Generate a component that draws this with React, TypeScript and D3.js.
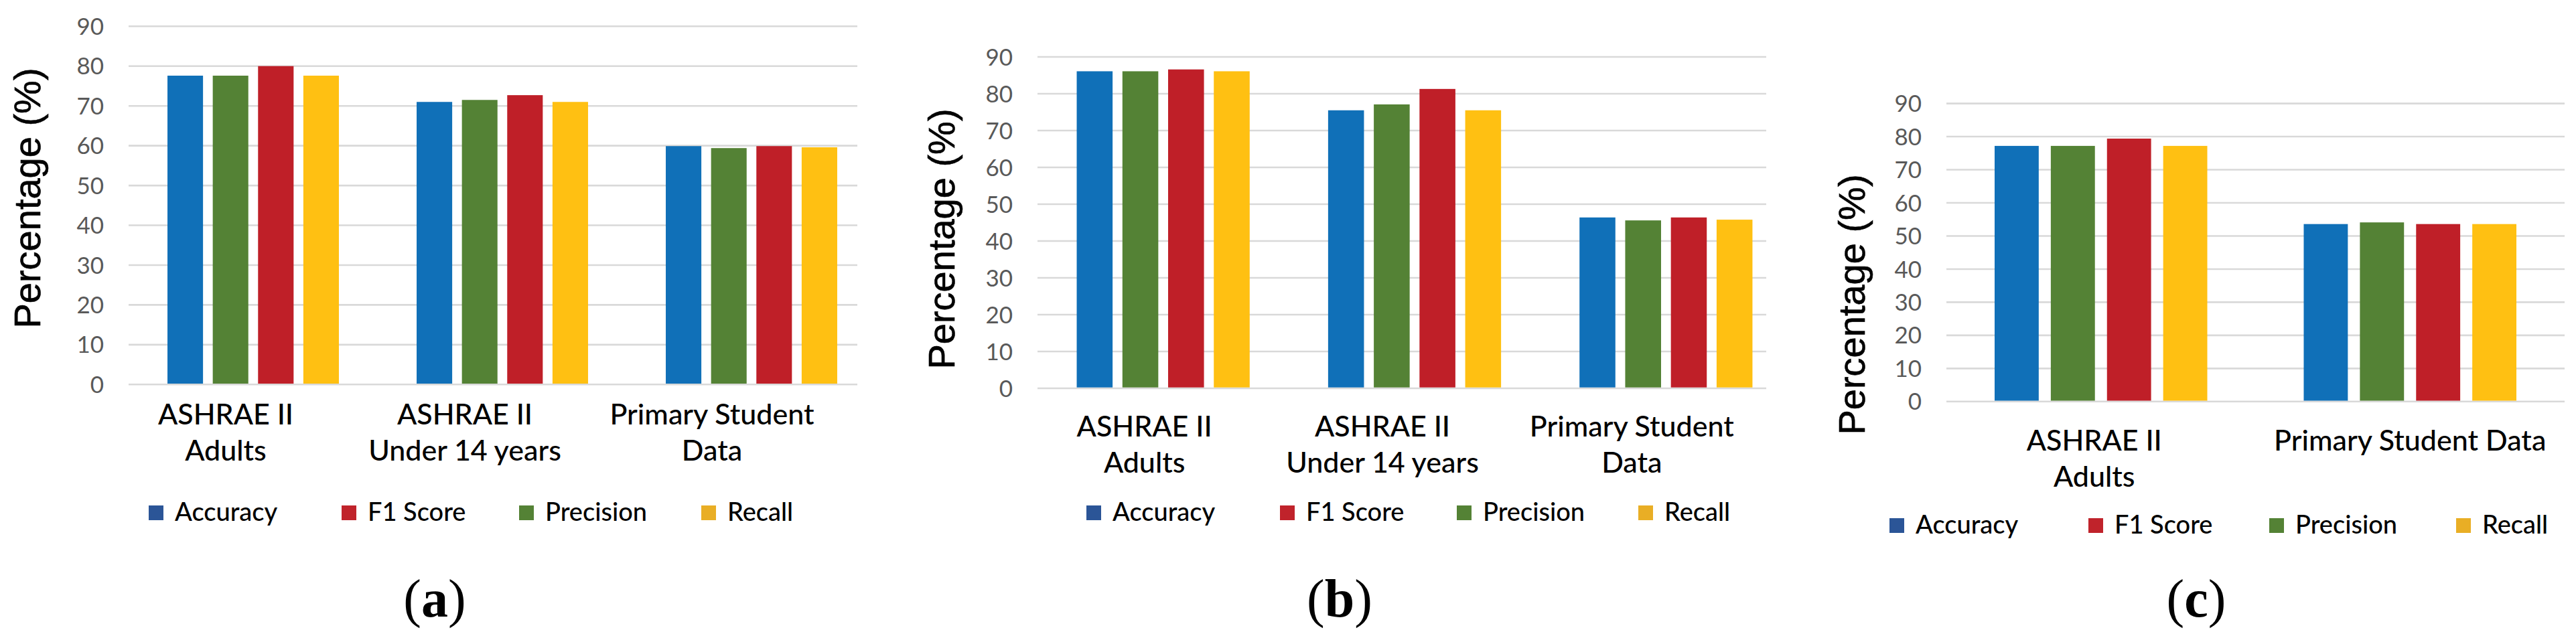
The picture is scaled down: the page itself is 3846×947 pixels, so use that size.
import { useEffect, useRef } from "react";
import * as d3 from "d3";

// series in the order the bars are drawn, and in the order the legend lists them
const barSeries = ["Accuracy", "Precision", "F1 Score", "Recall"];
const legendSeries = ["Accuracy", "F1 Score", "Precision", "Recall"];
const yTicks = [0, 10, 20, 30, 40, 50, 60, 70, 80, 90];

const categoriesA = ["ASHRAE II\nAdults", "ASHRAE II\nUnder 14 years", "Primary Student\nData"];
const accuracyA = [77.6, 71.0, 59.9];
const precisionA = [77.6, 71.5, 59.4];
const f1A = [80.0, 72.7, 59.9];
const recallA = [77.6, 71.0, 59.6];

const categoriesB = ["ASHRAE II\nAdults", "ASHRAE II\nUnder 14 years", "Primary Student\nData"];
const accuracyB = [86.1, 75.5, 46.4];
const precisionB = [86.1, 77.1, 45.6];
const f1B = [86.6, 81.3, 46.4];
const recallB = [86.1, 75.5, 45.8];

const categoriesC = ["ASHRAE II\nAdults", "Primary Student Data"];
const accuracyC = [77.2, 53.6];
const precisionC = [77.2, 54.1];
const f1C = [79.4, 53.6];
const recallC = [77.2, 53.6];

const barColor: Record<string, string> = {
  Accuracy: "#1070b8",
  Precision: "#548235",
  "F1 Score": "#bf1f28",
  Recall: "#ffc012",
};
const legendColor: Record<string, string> = {
  Accuracy: "#2b5597",
  Precision: "#548235",
  "F1 Score": "#c0232b",
  Recall: "#e9ae25",
};

const LABEL_FONT = "Lato, 'Open Sans', sans-serif";

interface Panel {
  caption: string;
  categories: string[];
  values: Record<string, number[]>;
  left: number;
  right: number;
  gridEnd: number;
  yTop: number;
  yBase: number;
  yTitle: [number, number];
  xLabelY: number;
  labelShift: number[];
  legendY: number;
  legendX: number[];
  captionX: number;
}

const panels: Panel[] = [
  {
    caption: "a",
    categories: categoriesA,
    values: { Accuracy: accuracyA, Precision: precisionA, "F1 Score": f1A, Recall: recallA },
    left: 192, right: 1308, gridEnd: 1280, yTop: 39.3, yBase: 574.3,
    yTitle: [40, 296], xLabelY: 634, labelShift: [-41, -56, -59], legendY: 766,
    legendX: [222, 510, 775, 1047], captionX: 649,
  },
  {
    caption: "b",
    categories: categoriesB,
    values: { Accuracy: accuracyB, Precision: precisionB, "F1 Score": f1B, Recall: recallB },
    left: 1549, right: 2675, gridEnd: 2637, yTop: 85, yBase: 580,
    yTitle: [1405, 357], xLabelY: 652, labelShift: [-28, -48, -51], legendY: 766,
    legendX: [1622, 1911, 2175, 2446], captionX: 2000,
  },
  {
    caption: "c",
    categories: categoriesC,
    values: { Accuracy: accuracyC, Precision: precisionC, "F1 Score": f1C, Recall: recallC },
    left: 2906, right: 3829, gridEnd: 3829, yTop: 154.6, yBase: 599.8,
    yTitle: [2764, 455], xLabelY: 673, labelShift: [-10, 0], legendY: 785,
    legendX: [2821, 3118, 3388, 3667], captionX: 3279,
  },
];

function drawPanel(svg: d3.Selection<SVGSVGElement, unknown, null, undefined>, p: Panel) {
  const g = svg.append("g");
  const y = d3.scaleLinear().domain([0, 90]).range([p.yBase, p.yTop]);
  const x0 = d3
    .scaleBand<string>()
    .domain(p.categories)
    .range([p.left, p.right])
    .paddingInner(0.312)
    .paddingOuter(0.156);
  const x1 = d3
    .scaleBand<string>()
    .domain(barSeries)
    .range([0, x0.bandwidth()])
    .paddingInner(0.215);

  // gridlines
  g.selectAll(".grid")
    .data(yTicks)
    .enter()
    .append("line")
    .attr("x1", p.left)
    .attr("x2", p.gridEnd)
    .attr("y1", d => y(d))
    .attr("y2", d => y(d))
    .attr("stroke", "#d9d9d9")
    .attr("stroke-width", 2.6);

  g.selectAll(".tick")
    .data(yTicks)
    .enter()
    .append("text")
    .attr("x", p.left - 37)
    .attr("y", d => y(d))
    .attr("dy", "0.36em")
    .attr("text-anchor", "end")
    .attr("font-family", LABEL_FONT)
    .attr("font-size", 35)
    .attr("fill", "#595959")
    .text(d => d);

  // bars
  const groups = g
    .selectAll(".group")
    .data(p.categories)
    .enter()
    .append("g")
    .attr("transform", d => `translate(${x0(d)},0)`);
  groups
    .selectAll("rect")
    .data((_, i) => barSeries.map(s => ({ s, v: p.values[s][i] })))
    .enter()
    .append("rect")
    .attr("x", d => x1(d.s) as number)
    .attr("width", x1.bandwidth())
    .attr("y", d => y(d.v))
    .attr("height", d => y(0) - y(d.v) - 1.3)
    .attr("fill", d => barColor[d.s]);

  // category labels (the original sits them a little left of the bar groups)
  g.selectAll(".cat")
    .data(p.categories)
    .enter()
    .append("text")
    .attr("text-anchor", "middle")
    .attr("font-family", LABEL_FONT)
    .attr("font-size", 43)
    .attr("font-weight", 500)
    .attr("fill", "#000")
    .each(function (d, i) {
      const t = d3.select(this);
      const cx = (x0(d) as number) + x0.bandwidth() / 2 + p.labelShift[i];
      d.split("\n").forEach((line, j) => {
        t.append("tspan")
          .attr("x", cx)
          .attr("y", p.xLabelY + j * 53.5)
          .text(line);
      });
    });

  // y title
  g.append("text")
    .attr("transform", `translate(${p.yTitle[0]},${p.yTitle[1]}) rotate(-90)`)
    .attr("text-anchor", "middle")
    .attr("dy", "0.36em")
    .attr("font-family", "'Liberation Sans', Arial, sans-serif")
    .attr("font-size", 56)
    .attr("fill", "#000")
    .attr("stroke", "#000")
    .attr("stroke-width", 0.6)
    .text("Percentage (%)");

  // legend
  const items = g
    .selectAll(".legend")
    .data(legendSeries)
    .enter()
    .append("g")
    .attr("transform", (_, i) => `translate(${p.legendX[i]},${p.legendY})`);
  items
    .append("rect")
    .attr("x", 0)
    .attr("y", -11)
    .attr("width", 22)
    .attr("height", 22)
    .attr("fill", d => legendColor[d]);
  items
    .append("text")
    .attr("x", 39)
    .attr("y", 12)
    .attr("font-family", LABEL_FONT)
    .attr("font-size", 38)
    .attr("font-weight", 500)
    .attr("fill", "#000")
    .text(d => d);

  // caption
  const cap = g
    .append("text")
    .attr("x", p.captionX)
    .attr("y", 921)
    .attr("text-anchor", "middle")
    .attr("font-family", "'Liberation Serif', 'Times New Roman', serif")
    .attr("font-size", 80)
    .attr("fill", "#000");
  cap.append("tspan").text("(");
  cap.append("tspan").attr("font-weight", "bold").text(p.caption);
  cap.append("tspan").text(")");
}

export default function App() {
  const svgRef = useRef<SVGSVGElement>(null);
  useEffect(() => {
    if (!svgRef.current) return;
    const svg = d3.select(svgRef.current);
    svg.selectAll("*").remove();
    svg.append("rect").attr("width", 3846).attr("height", 947).attr("fill", "#fff");
    panels.forEach(p => drawPanel(svg, p));
  }, []);
  return (
    <div style={{ position: "absolute", left: 0, top: 0 }}>
      <svg ref={svgRef} width={3846} height={947} style={{ display: "block" }} />
    </div>
  );
}
